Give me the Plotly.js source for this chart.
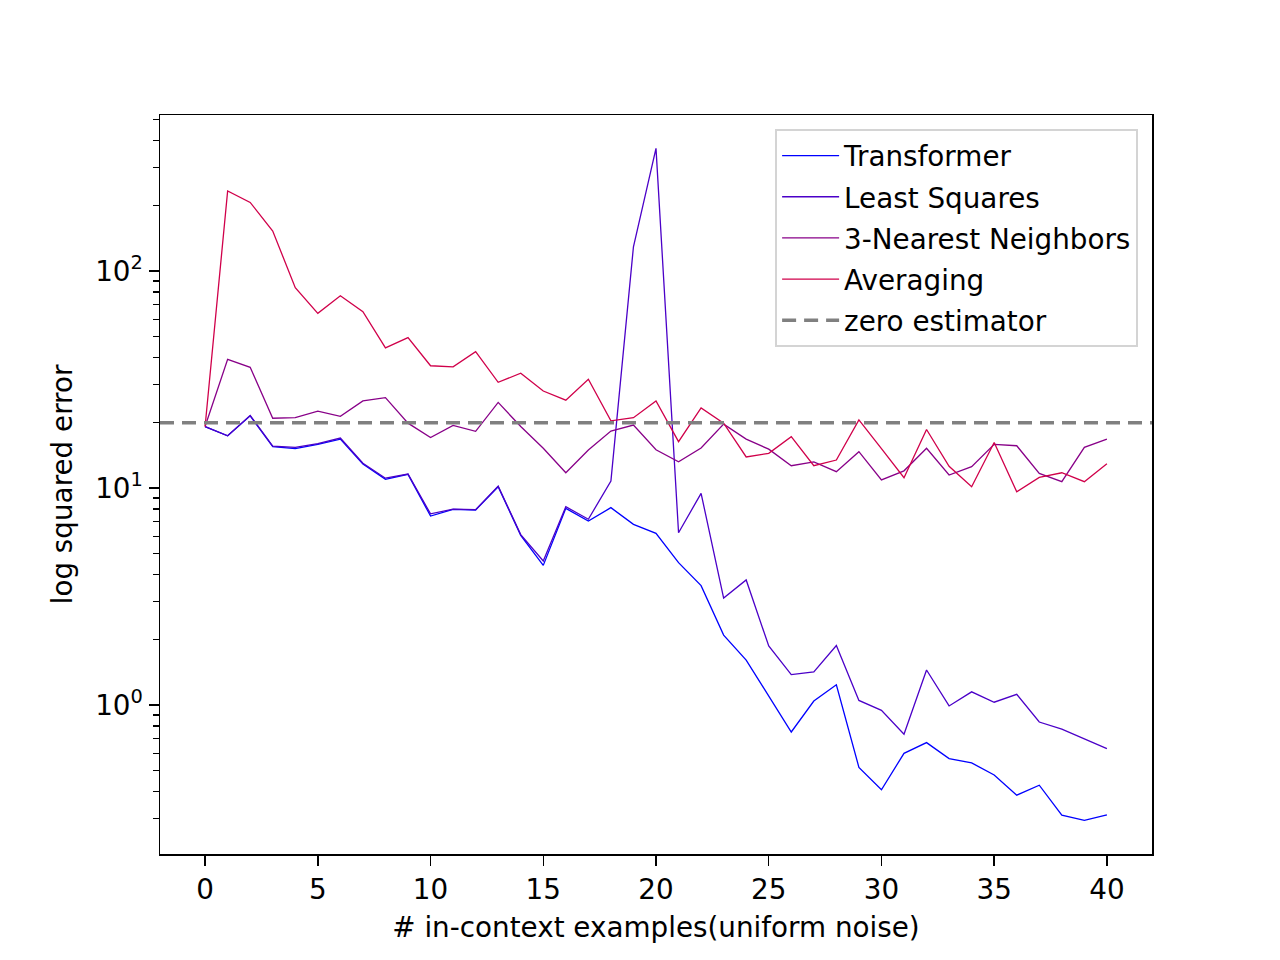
<!DOCTYPE html>
<html>
<head>
<meta charset="utf-8">
<script src="https://cdn.plot.ly/plotly-3.0.1.min.js"></script>
<style>html,body{margin:0;padding:0;background:#fff;}#chart{width:1280px;height:960px;}</style>
</head>
<body>
<div id="chart"></div>
<script>
const examples = [0,1,2,3,4,5,6,7,8,9,10,11,12,13,14,15,16,17,18,19,20,21,22,23,24,25,26,27,28,29,30,31,32,33,34,35,36,37,38,39,40];

const transformer = [19.2,17.4,21.5,15.5,15.2,15.9,16.8,12.9,10.96,11.56,7.43,7.98,7.92,10.14,6.05,4.40,8.06,7.05,8.12,6.8,6.18,4.53,3.55,2.10,1.61,1.10,0.751,1.043,1.24,0.516,0.407,0.599,0.671,0.566,0.541,0.476,0.384,0.427,0.311,0.294,0.312];

const leastSquares = [19.2,17.4,21.6,15.6,15.4,16.0,17.0,13.0,11.1,11.6,7.6,8.0,7.95,10.2,6.1,4.61,8.2,7.18,10.77,129.4,367.5,6.22,9.45,3.11,3.77,1.87,1.38,1.42,1.88,1.05,0.945,0.733,1.45,0.99,1.15,1.03,1.12,0.835,0.775,0.697,0.629];

const nearestNeighbors = [19.2,39.2,36.0,20.96,21.1,22.6,21.4,25.2,26.1,19.9,17.1,19.45,18.25,24.8,19.2,15.24,11.76,14.96,18.3,19.5,15.0,13.2,15.3,19.7,16.8,15.1,12.67,13.2,11.9,14.7,10.9,12.0,15.24,11.48,12.54,15.9,15.66,11.68,10.7,15.4,16.8];

const averaging = [19.2,233.7,207,152.9,83.8,63.8,76.9,64.9,44.2,49.3,36.6,36.2,42.5,30.7,33.8,28.0,25.4,31.7,20.4,21.1,25.2,16.35,23.4,19.9,13.9,14.45,17.24,12.67,13.46,20.6,15.2,11.16,18.6,12.6,10.14,16.2,9.6,11.2,11.76,10.7,12.94];

const zeroEstimator = 20;

const seriesNames = ["Transformer","Least Squares","3-Nearest Neighbors","Averaging"];
const seriesColors = ["#0000ff","#4b00c8","#880088","#d0004a"];
const seriesValues = [transformer, leastSquares, nearestNeighbors, averaging];

const xTickVals = [0,5,10,15,20,25,30,35,40];
const yTickVals = [1,10,100];
const yTickText = ["10<sup>0</sup>","10<sup>1</sup>","10<sup>2</sup>"];
const yMinorVals = [0.2,0.3,0.4,0.5,0.6,0.7,0.8,0.9,2,3,4,5,6,7,8,9,20,30,40,50,60,70,80,90,200,300,400,500];

const FONT = "DejaVu Sans, Verdana, sans-serif";
const FS = 27.8;

const traces = seriesNames.map((n, i) => ({
  type: "scatter",
  mode: "lines",
  name: n,
  x: examples,
  y: seriesValues[i],
  line: {color: seriesColors[i], width: 1.3},
  legendgroup: "g" + i
}));

const layout = {
  width: 1280,
  height: 960,
  paper_bgcolor: "#ffffff",
  plot_bgcolor: "#ffffff",
  margin: {l: 160, r: 128, t: 115, b: 106},
  font: {family: FONT, size: FS, color: "#000"},
  showlegend: true,
  legend: {
    x: 0.986, xanchor: "right",
    y: 0.981, yanchor: "top",
    bgcolor: "rgba(255,255,255,0.8)",
    bordercolor: "#d4d4d4",
    borderwidth: 2,
    font: {family: FONT, size: FS, color: "#000"},
    tracegroupgap: 2,
    itemwidth: 57
  },
  xaxis: {
    range: [-2, 42],
    tickmode: "array",
    tickvals: xTickVals,
    ticks: "outside",
    ticklen: 10,
    tickwidth: 1.5,
    tickcolor: "#000",
    showgrid: false,
    zeroline: false,
    showline: true,
    linecolor: "#000",
    linewidth: 1.5,
    mirror: true,
    tickfont: {family: FONT, size: FS},
    title: {text: "# in-context examples(uniform noise)", font: {family: FONT, size: FS}, standoff: 12}
  },
  yaxis: {
    type: "log",
    range: [-0.6866, 2.719],
    tickmode: "array",
    tickvals: yTickVals,
    ticktext: yTickText,
    ticks: "outside",
    ticklen: 10,
    tickwidth: 1.5,
    tickcolor: "#000",
    minor: {tickmode: "array", tickvals: yMinorVals, ticks: "outside", ticklen: 5.5, tickwidth: 1.2, tickcolor: "#000", showgrid: false},
    showgrid: false,
    zeroline: false,
    showline: true,
    linecolor: "#000",
    linewidth: 1.5,
    mirror: true,
    tickfont: {family: FONT, size: FS},
    title: {text: "log squared error", font: {family: FONT, size: FS}, standoff: 14}
  },
  shapes: [{
    type: "line",
    xref: "x domain", x0: 0, x1: 1,
    yref: "y", y0: zeroEstimator, y1: zeroEstimator,
    line: {color: "#808080", width: 3.5, dash: "14px,8px"},
    showlegend: true,
    name: "zero estimator",
    legendgroup: "g4"
  }]
};

Plotly.newPlot("chart", traces, layout, {displayModeBar: false, staticPlot: true});
</script>
</body>
</html>
